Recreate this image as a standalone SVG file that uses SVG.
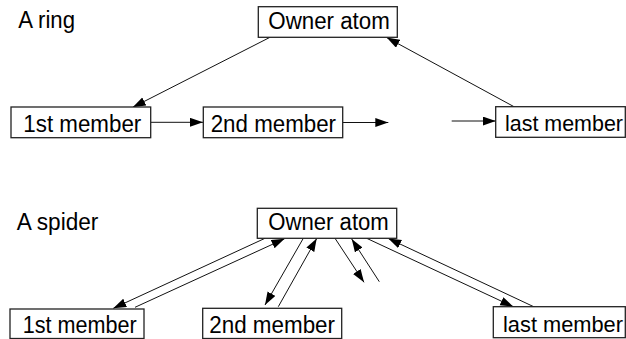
<svg xmlns="http://www.w3.org/2000/svg" width="626" height="339" viewBox="0 0 626 339">
<defs>
<style>
.box{fill:#fff;stroke:#222;stroke-width:1.3}
.t{font-family:"Liberation Sans",Arial,sans-serif;font-size:23px;fill:#000}
.tl{font-size:21.5px}
.c{fill:none;stroke:#111;stroke-width:1}
</style>
<marker id="ah" markerUnits="userSpaceOnUse" markerWidth="14" markerHeight="10" refX="13" refY="4.5" orient="auto">
<path d="M0,0 L13,4.5 L0,9 z" fill="#000"/>
</marker>
</defs>
<rect width="626" height="339" fill="#fff"/>
<text class="t" x="18.3" y="28" textLength="56.7" lengthAdjust="spacingAndGlyphs">A ring</text>
<text class="t" x="16.7" y="229.5" textLength="81.7" lengthAdjust="spacingAndGlyphs">A spider</text>
<g id="connectors">
<line class="c" x1="150.7" y1="122.3" x2="203" y2="122.3" marker-end="url(#ah)"/>
<line class="c" x1="342.7" y1="122.5" x2="388.3" y2="122.5" marker-end="url(#ah)"/>
<line class="c" x1="451.7" y1="121" x2="495.7" y2="121" marker-end="url(#ah)"/>
<line class="c" x1="270" y1="37.3" x2="132.7" y2="107.3" marker-end="url(#ah)"/>
<line class="c" x1="514" y1="106.7" x2="386.7" y2="37.5" marker-end="url(#ah)"/>
<line class="c" x1="265" y1="238.3" x2="113.3" y2="308.3" marker-end="url(#ah)"/>
<line class="c" x1="135" y1="307.3" x2="284.5" y2="238.8" marker-end="url(#ah)"/>
<line class="c" x1="303.3" y1="238.3" x2="265" y2="305" marker-end="url(#ah)"/>
<line class="c" x1="278.3" y1="306.7" x2="316.7" y2="238.5" marker-end="url(#ah)"/>
<line class="c" x1="335" y1="238.3" x2="364" y2="282.3" marker-end="url(#ah)"/>
<line class="c" x1="379.3" y1="281.7" x2="351.7" y2="239" marker-end="url(#ah)"/>
<line class="c" x1="366.7" y1="238.3" x2="513.3" y2="306.7" marker-end="url(#ah)"/>
<line class="c" x1="535" y1="307.3" x2="388.3" y2="238.5" marker-end="url(#ah)"/>
</g>
<g id="ring-owner">
<rect class="box" x="258.3" y="6.7" width="139" height="30.6"/>
<text class="t" x="268.3" y="28.9" textLength="121.5" lengthAdjust="spacingAndGlyphs">Owner atom</text>
</g>
<g id="ring-1st">
<rect class="box" x="11" y="107" width="139.7" height="30.7"/>
<text class="t" x="23.3" y="132.3" textLength="118" lengthAdjust="spacingAndGlyphs">1st member</text>
</g>
<g id="ring-2nd">
<rect class="box" x="203.3" y="107" width="139.4" height="30.7"/>
<text class="t" x="210.7" y="132.3" textLength="125.3" lengthAdjust="spacingAndGlyphs">2nd member</text>
</g>
<g id="ring-last">
<rect class="box" x="495.7" y="106.7" width="129.6" height="30.6"/>
<text class="t tl" x="505" y="131" textLength="118" lengthAdjust="spacingAndGlyphs">last member</text>
</g>
<g id="spider-owner">
<rect class="box" x="257.3" y="208.3" width="139.4" height="30"/>
<text class="t" x="268.3" y="229.5" textLength="120.5" lengthAdjust="spacingAndGlyphs">Owner atom</text>
</g>
<g id="spider-1st">
<rect class="box" x="10" y="309" width="134" height="29.5"/>
<text class="t" x="22.7" y="333.2" textLength="114" lengthAdjust="spacingAndGlyphs">1st member</text>
</g>
<g id="spider-2nd">
<rect class="box" x="202.7" y="308.3" width="139" height="30.2"/>
<text class="t" x="209.3" y="333" textLength="125.7" lengthAdjust="spacingAndGlyphs">2nd member</text>
</g>
<g id="spider-last">
<rect class="box" x="493.3" y="306.7" width="132" height="31"/>
<text class="t tl" x="503" y="331.5" textLength="120" lengthAdjust="spacingAndGlyphs">last member</text>
</g>
</svg>
